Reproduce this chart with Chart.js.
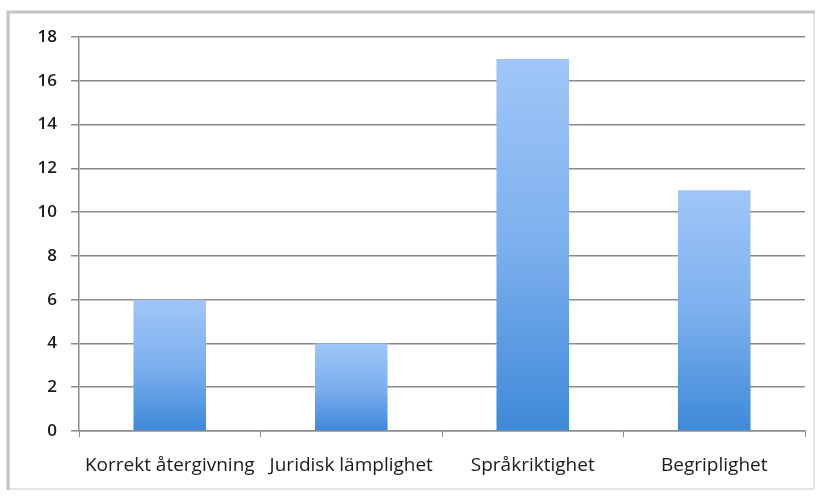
<!DOCTYPE html>
<html>
<head>
<meta charset="utf-8">
<script src="https://cdn.jsdelivr.net/npm/chart.js@4/dist/chart.umd.min.js"></script>
<style>
  html, body { margin: 0; padding: 0; background: #ffffff; }
  #wrap { width: 821px; height: 497px; position: relative; }
</style>
</head>
<body>
<div id="wrap"><canvas id="c" width="821" height="497"></canvas></div>
<script>
// Bedömningskategorier och antal
const categories = ["Korrekt återgivning", "Juridisk lämplighet", "Språkriktighet", "Begriplighet"];
const counts = [6, 4, 17, 11];
const yMin = 0;
const yMax = 18;
const yStep = 2;

// Excel-style vertical gradient per bar: light top, deeper blue bottom
function barGradient(ctx) {
  const chart = ctx.chart;
  const area = chart.chartArea;
  if (!area) return '#6fa8ec';
  const y = chart.scales.y;
  const v = ctx.raw;
  const top = y.getPixelForValue(v);
  const bottom = y.getPixelForValue(0);
  const g = chart.ctx.createLinearGradient(0, top, 0, bottom);
  g.addColorStop(0, '#a0c6f7');
  g.addColorStop(0.5, '#7db0ee');
  g.addColorStop(1, '#3e89d8');
  return g;
}

// Light grey frame around the whole chart
const framePlugin = {
  id: 'frame',
  beforeDraw(chart) {
    const c = chart.ctx;
    c.save();
    c.fillStyle = '#ffffff';
    c.fillRect(0, 0, chart.width, chart.height);
    c.strokeStyle = '#e6e6e6';
    c.lineWidth = 2;
    c.strokeRect(9, 12, 805, 477);
    c.strokeStyle = '#c4c4c4';
    c.lineWidth = 3;
    c.beginPath();
    c.moveTo(8, 490);
    c.lineTo(8, 12);
    c.lineTo(815, 12);
    c.stroke();
    c.restore();
  }
};

new Chart(document.getElementById('c'), {
  type: 'bar',
  data: {
    labels: categories,
    datasets: [{
      data: counts,
      backgroundColor: barGradient,
      borderWidth: 0,
      categoryPercentage: 1.0,
      barPercentage: 0.4
    }]
  },
  options: {
    responsive: false,
    animation: false,
    devicePixelRatio: 1,
    layout: { padding: { left: 10, top: 37, right: 16, bottom: 6 } },
    plugins: {
      legend: { display: false },
      tooltip: { enabled: false }
    },
    scales: {
      x: {
        grid: {
          offset: true,
          drawOnChartArea: false,
          drawTicks: true,
          tickLength: 6,
          color: '#8c8c8c',
          lineWidth: 1
        },
        border: { display: true, color: '#8c8c8c', width: 1.5 },
        ticks: {
          color: '#1a1a1a',
          font: { family: 'Open Sans', size: 19 },
          padding: 17,
          maxRotation: 0,
          autoSkip: false
        },
        afterFit(scale) { scale.height = 60; }
      },
      y: {
        min: yMin,
        max: yMax,
        grid: {
          drawTicks: true,
          tickLength: 8,
          color: '#8a8a8a',
          lineWidth: 1.5
        },
        border: { display: true, color: '#8c8c8c', width: 1.5 },
        ticks: {
          stepSize: yStep,
          color: '#1a1a1a',
          font: { family: 'Open Sans', size: 17, weight: '600' },
          padding: 14
        },
        afterFit(scale) { scale.width = 69; }
      }
    }
  },
  plugins: [framePlugin]
});
</script>
</body>
</html>
